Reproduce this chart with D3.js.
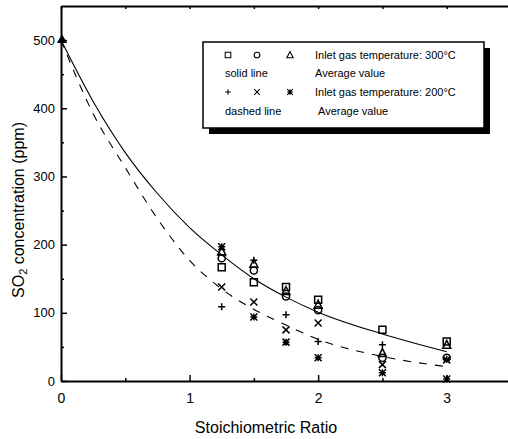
<!DOCTYPE html>
<html><head><meta charset="utf-8">
<script src="https://cdn.jsdelivr.net/npm/d3@7"></script>
<style>body{margin:0;background:#fff}svg{display:block}text{font-family:"Liberation Sans",Arial,sans-serif;fill:#000}</style>
</head><body><svg id="c" width="508" height="439"></svg>
<script>
// ---- data ----
const ratios = [1.25, 1.5, 1.75, 2, 2.5, 3];
const sq300 = [167, 145, 138, 119, 75, 58];
const ci300 = [180, 162, 124, 104, 34, 34];
const tr300 = [190, 172, 132, 112, 41, 53];
const pl200 = [109, 177, 97, 58, 53, 32];
const cr200 = [138, 116, 75, 85, 24, 31];
const st200 = [197, 94, 57, 34, 12, 3];
const curveX = [0, 0.25, 0.5, 0.75, 1, 1.25, 1.5, 1.75, 2, 2.5, 3];
const avg300 = [500, 410, 335, 275, 225, 185, 150, 123, 101, 69, 43];
const avg200 = [500, 392, 313, 238, 177, 135, 105, 82, 61, 36, 21];
const startPoint = [[0, 500]];
const xTicks = [0, 1, 2, 3];
const xMinor = [0.5, 1.5, 2.5];
const yTicks = [0, 100, 200, 300, 400, 500];
const yMinor = [50, 150, 250, 350, 450];

const svg = d3.select("#c");
const x = d3.scaleLinear().domain([0, 3.5]).range([61, 511]);
const y = d3.scaleLinear().domain([0, 550]).range([381, 6]);

// curves
const line = d3.line().x(d => x(d[0])).y(d => y(d[1])).curve(d3.curveMonotoneX);
svg.append("path").attr("d", line(curveX.map((v, i) => [v, avg300[i]])))
  .attr("fill", "none").attr("stroke", "#000").attr("stroke-width", 1.1);
svg.append("path").attr("d", line(curveX.map((v, i) => [v, avg200[i]])))
  .attr("fill", "none").attr("stroke", "#000").attr("stroke-width", 1.1)
  .attr("stroke-dasharray", "8,8");

// marker generators
const s = 3.5;
const shapes = {
  square: `M${-s},${-s}H${s}V${s}H${-s}Z`,
  circle: d3.symbol(d3.symbolCircle, 40)(),
  triangle: `M0,${-s - 1}L${s + 0.5},${s}L${-s - 0.5},${s}Z`,
  plus: `M${-s},0H${s}M0,${-s}V${s}`,
  cross: `M${-s},${-s}L${s},${s}M${s},${-s}L${-s},${s}`,
  star: `M${-s},0H${s}M0,${-s}V${s}M${-s},${-s}L${s},${s}M${s},${-s}L${-s},${s}`
};
const series = [
  ["square", sq300], ["circle", ci300], ["triangle", tr300],
  ["plus", pl200], ["cross", cr200], ["star", st200]
];
series.forEach(([shape, vals]) => {
  svg.append("g").selectAll("path").data(vals).join("path")
    .attr("transform", (d, i) => `translate(${x(ratios[i])},${y(d)})`)
    .attr("d", shapes[shape]).attr("fill", "none")
    .attr("stroke", "#000").attr("stroke-width", 1.5);
});
svg.append("g").selectAll("path").data(startPoint).join("path")
  .attr("transform", d => `translate(${x(d[0]) + 1},${y(d[1])})`)
  .attr("d", d3.symbol(d3.symbolTriangle, 45)()).attr("fill", "#000");

// axes
const gx = svg.append("g").attr("transform", `translate(0,${y(0)})`)
  .call(d3.axisBottom(x).tickValues(xTicks).tickSizeInner(-6).tickSizeOuter(0).tickPadding(12).tickFormat(d3.format("d")));
svg.append("g").attr("transform", `translate(0,${y(0)})`)
  .call(d3.axisBottom(x).tickValues(xMinor).tickSizeInner(-3).tickSizeOuter(0).tickFormat(""))
  .select(".domain").remove();
const gy = svg.append("g").attr("transform", `translate(${x(0)},0)`)
  .call(d3.axisLeft(y).tickValues(yTicks).tickSizeInner(-6).tickSizeOuter(0).tickPadding(6).tickFormat(d3.format("d")));
svg.append("g").attr("transform", `translate(${x(0)},0)`)
  .call(d3.axisLeft(y).tickValues(yMinor).tickSizeInner(-3).tickSizeOuter(0).tickFormat(""))
  .select(".domain").remove();
// top frame
svg.append("g").attr("transform", `translate(0,${y(550)})`)
  .call(d3.axisTop(x).tickValues(xTicks.concat(xMinor)).tickSizeInner(-3).tickSizeOuter(0).tickFormat(""));
svg.selectAll(".domain").attr("stroke-width", 2);
svg.selectAll(".tick line").attr("stroke-width", 1.5);
gx.selectAll("text").attr("font-size", 14).style("font-family", '"Liberation Sans",Arial,sans-serif');
gy.selectAll("text").attr("font-size", 13).style("font-family", '"Liberation Sans",Arial,sans-serif');

// axis titles
svg.append("text").attr("x", 266).attr("y", 433).attr("text-anchor", "middle")
  .attr("font-size", 16).text("Stoichiometric Ratio");
const yl = svg.append("text").attr("transform", "translate(24,210) rotate(-90)")
  .attr("text-anchor", "middle").attr("font-size", 16);
yl.append("tspan").text("SO");
yl.append("tspan").attr("font-size", 11).attr("dy", 3).text("2");
yl.append("tspan").attr("dy", -3).text(" concentration (ppm)");

// legend
const lg = svg.append("g");
lg.append("rect").attr("x", 209).attr("y", 48).attr("width", 281).attr("height", 86).attr("fill", "#000");
lg.append("rect").attr("x", 203).attr("y", 42).attr("width", 281).attr("height", 86)
  .attr("fill", "#fff").attr("stroke", "#000").attr("stroke-width", 1.5);
const legShapes = [["square", 228, 55], ["circle", 257, 55], ["triangle", 290, 55],
                   ["plus", 228, 92], ["cross", 257, 92], ["star", 290, 92]];
legShapes.forEach(([sh, lx, ly]) => {
  lg.append("path").attr("transform", `translate(${lx},${ly}) scale(0.8)`).attr("d", shapes[sh])
    .attr("fill", "none").attr("stroke", "#000").attr("stroke-width", 1.3);
});
const legTexts = [["Inlet gas temperature: 300°C", 315, 59], ["solid line", 225, 77], ["Average value", 315, 77],
                  ["Inlet gas temperature: 200°C", 315, 96], ["dashed line", 225, 115], ["Average value", 318, 115]];
legTexts.forEach(([t, lx, ly]) => {
  lg.append("text").attr("x", lx).attr("y", ly).attr("font-size", 11).text(t);
});
</script></body></html>
